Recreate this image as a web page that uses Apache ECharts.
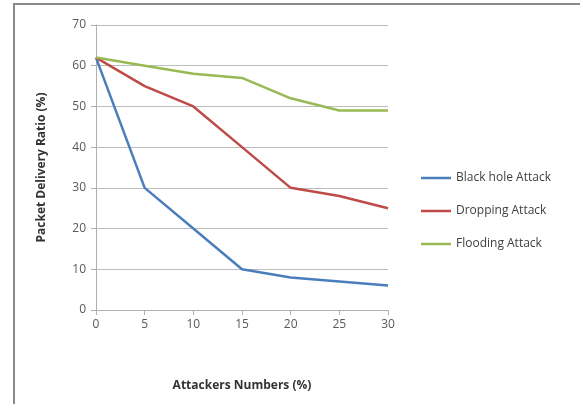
<!DOCTYPE html>
<html>
<head>
<meta charset="utf-8">
<script src="https://cdn.jsdelivr.net/npm/echarts@6/dist/echarts.min.js"></script>
<style>
html,body{margin:0;padding:0;background:#fff;}
#chart{width:580px;height:408px;}
</style>
</head>
<body>
<div id="chart"></div>
<script>
// Attacker share (%) on the x axis
const attackers = [0, 5, 10, 15, 20, 25, 30];
// Packet delivery ratio (%) for each attack type
const blackHole = [62, 30, 20, 10, 8, 7, 6];
const dropping = [62, 55, 50, 40, 30, 28, 25];
const flooding = [62, 60, 58, 57, 52, 49, 49];
const seriesNames = ['Black hole Attack', 'Dropping Attack', 'Flooding Attack'];
const colors = ['#4a7ebb', '#be4b48', '#98b954'];

const font = 'Open Sans, Liberation Sans, sans-serif';
const pairs = vals => attackers.map((x, i) => [x, vals[i]]);

const chart = echarts.init(document.getElementById('chart'), null, {renderer: 'canvas'});
chart.setOption({
  animation: false,
  backgroundColor: '#ffffff',
  graphic: [{
    type: 'polyline',
    shape: {points: [[14, 404], [14, 4], [580, 4]]},
    style: {stroke: '#8a8a8a', lineWidth: 2, fill: null}
  }],
  grid: {left: 96, right: 192, top: 25, bottom: 98},
  legend: {
    orient: 'vertical',
    left: 416,
    top: 167,
    itemGap: 21,
    itemWidth: 30,
    itemHeight: 14,
    icon: 'path://M0,6 L30,6 L30,8.5 L0,8.5 Z',
    textStyle: {fontFamily: font, fontSize: 12, color: '#404040'},
    data: seriesNames
  },
  xAxis: {
    type: 'value',
    min: 0, max: 30, interval: 5,
    name: 'Attackers Numbers (%)',
    nameLocation: 'middle',
    nameGap: 70,
    nameTextStyle: {fontFamily: font, fontSize: 12, fontWeight: 'bold', color: '#333'},
    axisLine: {lineStyle: {color: '#b0b0b0', width: 1}},
    axisTick: {show: true, length: 5, lineStyle: {color: '#b0b0b0'}},
    axisLabel: {fontFamily: font, fontSize: 12, color: '#595959', margin: 9},
    splitLine: {show: false}
  },
  yAxis: {
    type: 'value',
    min: 0, max: 70, interval: 10,
    name: 'Packet Delivery Ratio (%)',
    nameLocation: 'middle',
    nameGap: 48,
    nameRotate: 90,
    nameTextStyle: {fontFamily: font, fontSize: 12, fontWeight: 'bold', color: '#333'},
    axisLine: {show: true, lineStyle: {color: '#b0b0b0', width: 1}},
    axisTick: {show: true, length: 5, lineStyle: {color: '#b0b0b0'}},
    axisLabel: {fontFamily: font, fontSize: 12, color: '#595959', margin: 10},
    splitLine: {show: true, lineStyle: {color: '#bdbdbd', width: 1}}
  },
  series: [
    {name: seriesNames[0], type: 'line', data: pairs(blackHole), symbol: 'none',
     lineStyle: {color: colors[0], width: 2.5}, itemStyle: {color: colors[0]}},
    {name: seriesNames[1], type: 'line', data: pairs(dropping), symbol: 'none',
     lineStyle: {color: colors[1], width: 2.5}, itemStyle: {color: colors[1]}},
    {name: seriesNames[2], type: 'line', data: pairs(flooding), symbol: 'none',
     lineStyle: {color: colors[2], width: 2.5}, itemStyle: {color: colors[2]}}
  ]
});
</script>
</body>
</html>
